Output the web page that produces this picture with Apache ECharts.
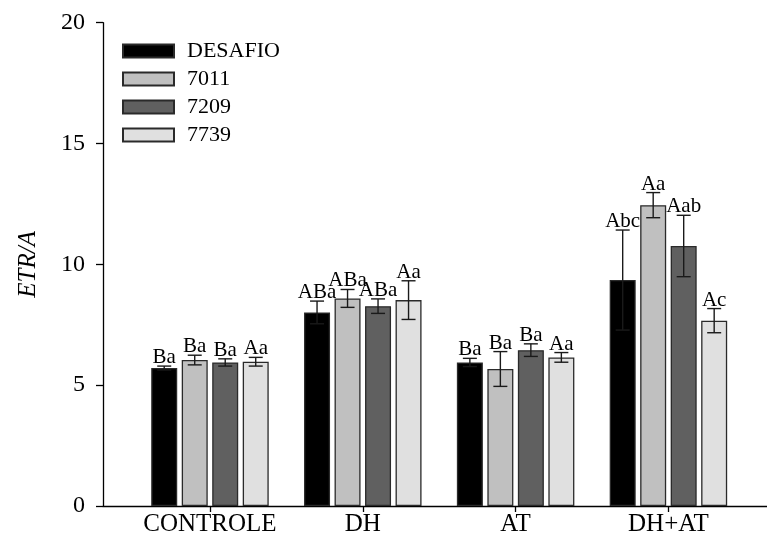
<!DOCTYPE html>
<html>
<head>
<meta charset="utf-8">
<script src="https://cdn.jsdelivr.net/npm/echarts@6/dist/echarts.min.js"></script>
<style>
  html, body { margin: 0; padding: 0; background: #fff; }
  #chart { width: 767px; height: 540px; }
</style>
</head>
<body>
<div id="chart"></div>
<script>
// Treatments on the x axis
const categories = ['CONTROLE', 'DH', 'AT', 'DH+AT'];
const seriesNames = ['DESAFIO', '7011', '7209', '7739'];

// Mean ETR/A per treatment
const desafio = [5.71, 8.01, 5.94, 9.35];
const g7011   = [6.04, 8.59, 5.67, 12.45];
const g7209   = [5.94, 8.27, 6.45, 10.76];
const g7739   = [5.97, 8.52, 6.15, 7.67];

// Error (half-length of the error bar)
const desafioErr = [0.08, 0.47, 0.17, 2.07];
const g7011Err   = [0.20, 0.37, 0.72, 0.52];
const g7209Err   = [0.15, 0.30, 0.26, 1.27];
const g7739Err   = [0.18, 0.80, 0.20, 0.50];

// Significance letters
const desafioLetters = ['Ba', 'ABa', 'Ba', 'Abc'];
const g7011Letters   = ['Ba', 'ABa', 'Ba', 'Aa'];
const g7209Letters   = ['Ba', 'ABa', 'Ba', 'Aab'];
const g7739Letters   = ['Aa', 'Aa', 'Aa', 'Ac'];

const yTicks = [0, 5, 10, 15, 20];

const values  = [desafio, g7011, g7209, g7739];
const errors  = [desafioErr, g7011Err, g7209Err, g7739Err];
const letters = [desafioLetters, g7011Letters, g7209Letters, g7739Letters];
const fills   = ['#000000', '#c0c0c0', '#606060', '#e0e0e0'];

const FONT = '"Liberation Serif", "Times New Roman", serif';
const BAR_W = 26;
const BAR_GAP = 0.173;
const STEP = BAR_W * (1 + BAR_GAP);
const CAP = 14;

const chart = echarts.init(document.getElementById('chart'), null, { renderer: 'canvas' });

const barSeries = seriesNames.map((name, s) => ({
  name: name,
  type: 'bar',
  barWidth: BAR_W,
  barGap: (BAR_GAP * 100) + '%',
  itemStyle: { color: fills[s], borderColor: '#2a2a2a', borderWidth: 1.3 },
  data: values[s].map((v, i) => [i + 1, v]),
  z: 2
}));

// Error bars with caps, and the letter label above each one
const errSeries = seriesNames.map((name, s) => ({
  type: 'custom',
  z: 5,
  silent: true,
  data: values[s].map((v, i) => [i + 1, v, errors[s][i]]),
  renderItem: function (params, api) {
    const x = api.value(0), v = api.value(1), e = api.value(2);
    const lbl = letters[s][params.dataIndex];
    const off = (s - 1.5) * STEP;
    const top = api.coord([x, v + e]);
    const bot = api.coord([x, v - e]);
    const cx = top[0] + off;
    const style = { stroke: '#1a1a1a', lineWidth: 1.4 };
    return {
      type: 'group',
      children: [
        { type: 'line', shape: { x1: cx, y1: top[1], x2: cx, y2: bot[1] }, style: style },
        { type: 'line', shape: { x1: cx - CAP / 2, y1: top[1], x2: cx + CAP / 2, y2: top[1] }, style: style },
        { type: 'line', shape: { x1: cx - CAP / 2, y1: bot[1], x2: cx + CAP / 2, y2: bot[1] }, style: style },
        { type: 'text', style: {
            text: lbl, x: cx, y: top[1] + 2,
            align: 'center', verticalAlign: 'bottom',
            fill: '#000', font: '21px ' + FONT
        } }
      ]
    };
  }
}));

chart.setOption({
  animation: false,
  backgroundColor: '#fff',
  textStyle: { fontFamily: FONT },
  grid: { left: 103, right: 0, top: 22.7, bottom: 34, containLabel: false },
  legend: {
    data: seriesNames,
    orient: 'vertical',
    left: 122,
    top: 40,
    padding: 0,
    itemWidth: 51,
    itemHeight: 13,
    itemGap: 6,
    icon: 'rect',
    textStyle: { fontFamily: FONT, fontSize: 22, color: '#000', padding: [0, 0, 0, 8] }
  },
  xAxis: {
    type: 'value',
    min: 0.3,
    max: 4.645,
    splitLine: { show: false },
    axisLine: { show: true, lineStyle: { color: '#000', width: 1.3 } },
    axisTick: { show: true, length: 6, customValues: [1, 2, 3, 4], lineStyle: { color: '#000', width: 1.3 } },
    axisLabel: {
      customValues: [1, 2, 3, 4],
      formatter: v => categories[Math.round(v) - 1],
      fontFamily: FONT, fontSize: 25, color: '#000', margin: 6
    }
  },
  yAxis: {
    type: 'value',
    min: yTicks[0],
    max: yTicks[yTicks.length - 1],
    interval: 5,
    name: 'ETR/A',
    nameLocation: 'middle',
    nameGap: 62,
    nameTextStyle: { fontFamily: FONT, fontSize: 25, fontStyle: 'italic', color: '#000' },
    splitLine: { show: false },
    axisLine: { show: true, lineStyle: { color: '#000', width: 1.3 } },
    axisTick: { show: true, length: 7, lineStyle: { color: '#000', width: 1.3 } },
    axisLabel: { fontFamily: FONT, fontSize: 24, color: '#000', margin: 18 }
  },
  series: barSeries.concat(errSeries)
});
</script>
</body>
</html>
